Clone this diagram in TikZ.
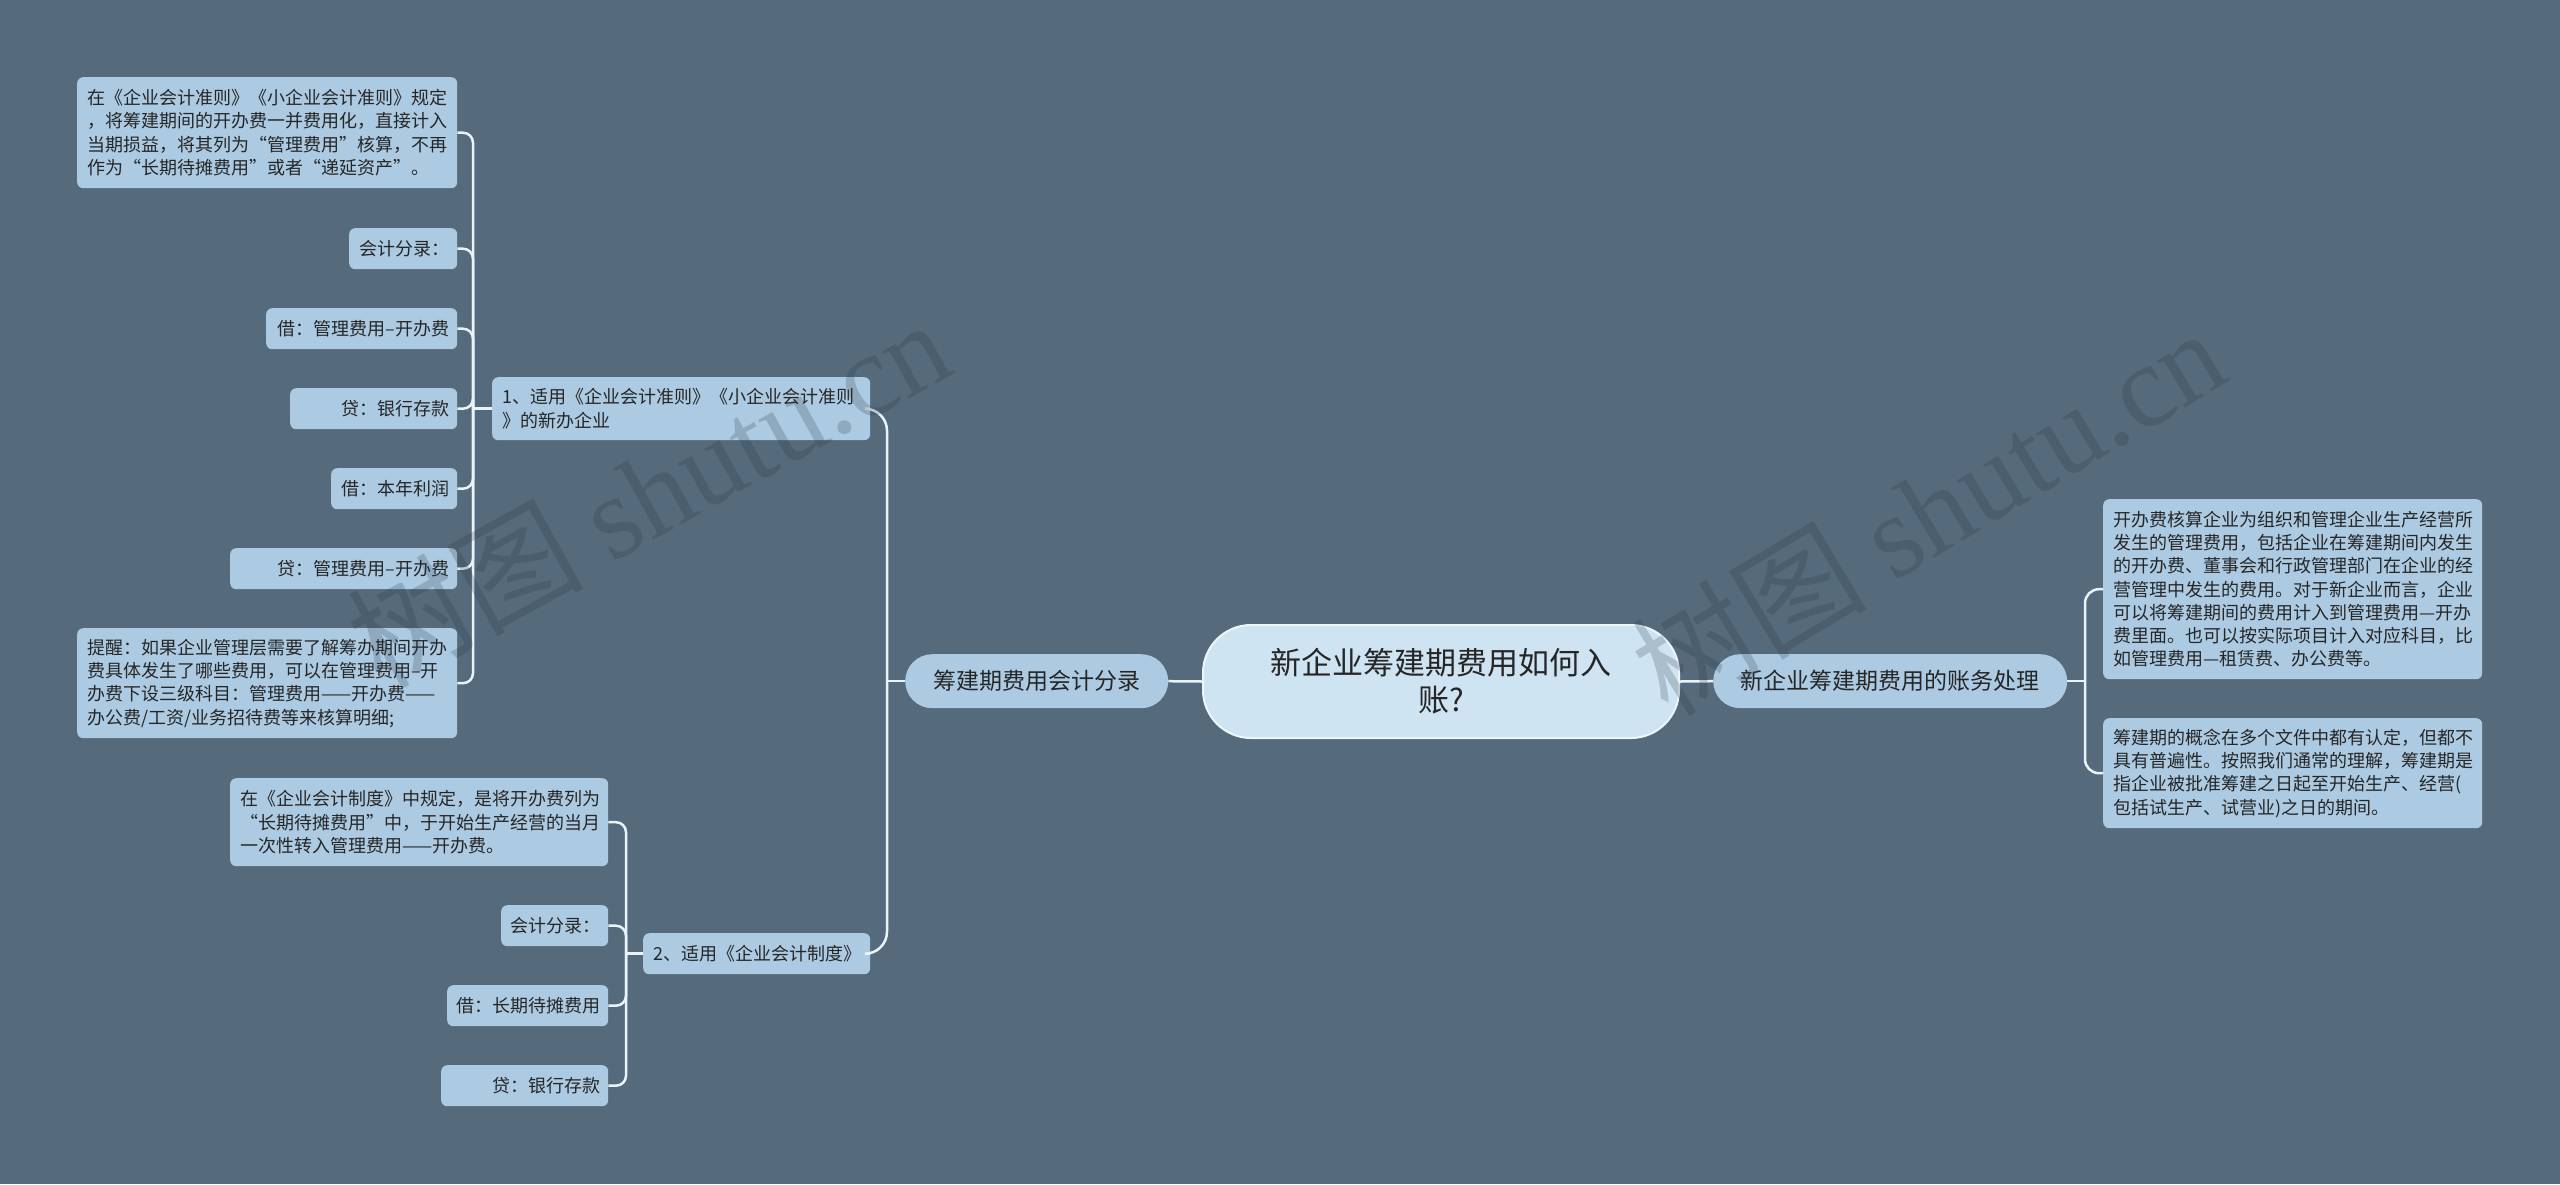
\documentclass[tikz,border=0pt]{standalone}
\usepackage{fontspec}
\setmainfont{Noto Sans CJK SC}
\newfontfamily\wmlatin{Liberation Serif}
\definecolor{bgc}{RGB}{85,106,122}
\definecolor{nodefill}{RGB}{172,203,227}
\definecolor{rootfill}{RGB}{207,228,242}
\definecolor{rootline}{RGB}{236,245,252}
\definecolor{linec}{RGB}{232,243,250}
\definecolor{txt}{RGB}{38,38,38}
\definecolor{wmc}{RGB}{40,55,66}
\tikzset{
  leaf/.style={fill=nodefill, rounded corners=6, inner xsep=10, inner ysep=0, text=txt,
    font=\fontsize{18}{23.3}\selectfont, anchor=north west},
  single/.style={leaf, inner xsep=8, align=right},
  lone/.style={fill=nodefill, rounded corners=27, inner xsep=10, inner ysep=0, text=txt,
    font=\fontsize{23}{28}\selectfont, anchor=north west, align=center},
  rootn/.style={fill=rootfill, draw=rootline, line width=2, rounded corners=48, inner sep=0,
    text=txt, font=\fontsize{31}{37}\selectfont, anchor=north west, align=center},
  conn/.style={draw=linec, line width=2.5},
  wm/.style={text=wmc, opacity=0.22, font=\fontsize{118}{125}\selectfont, inner sep=0}
}
\begin{document}
\begin{tikzpicture}[x=1pt,y=-1pt]
\useasboundingbox (0,0) rectangle (2560,1184);
\fill[bgc] (0,0) rectangle (2560,1184);

% root and level 1
\node[rootn, minimum width=476, minimum height=113] (root) at (1202,624) {新企业筹建期费用如何入\\账?};
\node[lone, minimum width=263, minimum height=54] (L) at (905,654) {筹建期费用会计分录};
\node[lone, minimum width=354, minimum height=54] (R) at (1713,654) {新企业筹建期费用的账务处理};

% level 2 left
\node[leaf, minimum width=378, minimum height=63, text width=358, align=left] (n1) at (492,377)
  {1、适用《企业会计准则》《小企业会计准则\\》的新办企业};
\node[leaf, minimum width=227, minimum height=41, text width=207, align=left] (n2) at (643,933)
  {2、适用《企业会计制度》};

% group 1 leaves
\node[leaf, minimum width=380, minimum height=111, text width=360, align=left] (a1) at (77,77)
  {在《企业会计准则》《小企业会计准则》规定\\，将筹建期间的开办费一并费用化，直接计入\\当期损益，将其列为“管理费用”核算，不再\\作为“长期待摊费用”或者“递延资产”。};
\node[single, minimum width=108, minimum height=41, text width=92] (a2) at (349,228) {\mbox{会计分录：}};
\node[single, minimum width=191, minimum height=41, text width=175] (a3) at (266,308) {\mbox{借：管理费用–开办费}};
\node[single, minimum width=167, minimum height=41, text width=151] (a4) at (290,388) {\mbox{贷：银行存款}};
\node[single, minimum width=126, minimum height=41, text width=110] (a5) at (331,468) {\mbox{借：本年利润}};
\node[single, minimum width=227, minimum height=41, text width=211] (a6) at (230,548) {\mbox{贷：管理费用–开办费}};
\node[leaf, minimum width=380, minimum height=110, text width=360, align=left] (a7) at (77,628)
  {提醒：如果企业管理层需要了解筹办期间开办\\费具体发生了哪些费用，可以在管理费用–开\\办费下设三级科目：管理费用——开办费——\\办公费/工资/业务招待费等来核算明细;};

% group 2 leaves
\node[leaf, minimum width=378, minimum height=88, text width=358, align=left] (b1) at (230,778)
  {在《企业会计制度》中规定，是将开办费列为\\“长期待摊费用”中，于开始生产经营的当月\\一次性转入管理费用——开办费。};
\node[single, minimum width=107, minimum height=41, text width=91] (b2) at (501,905) {\mbox{会计分录：}};
\node[single, minimum width=161, minimum height=41, text width=145] (b3) at (447,985) {\mbox{借：长期待摊费用}};
\node[single, minimum width=167, minimum height=41, text width=151] (b4) at (441,1065) {\mbox{贷：银行存款}};

% right leaves
\node[leaf, minimum width=379, minimum height=180, text width=359, align=left] (r1) at (2103,499)
  {开办费核算企业为组织和管理企业生产经营所\\发生的管理费用，包括企业在筹建期间内发生\\的开办费、董事会和行政管理部门在企业的经\\营管理中发生的费用。对于新企业而言，企业\\可以将筹建期间的费用计入到管理费用—开办\\费里面。也可以按实际项目计入对应科目，比\\如管理费用—租赁费、办公费等。};
\node[leaf, minimum width=379, minimum height=110, text width=359, align=left] (r2) at (2103,718)
  {筹建期的概念在多个文件中都有认定，但都不\\具有普遍性。按照我们通常的理解，筹建期是\\指企业被批准筹建之日起至开始生产、经营(\\包括试生产、试营业)之日的期间。};

% spines
\coordinate (s0) at (887,0);
\coordinate (s1) at (473,0);
\coordinate (s2) at (626,0);
\coordinate (s3) at (2085,0);

% connectors
\draw[conn] (root.west) -- (L.east);
\draw[conn] (root.east) -- (R.west);

\draw[conn] (L.west) -- (s0 |- L.west);
\foreach \c in {n1,n2} \draw[conn, rounded corners=22] (s0 |- L.west) |- (\c.east);

\draw[conn] (n1.west) -- (s1 |- n1.west);
\foreach \c in {a1,a2,a3,a4,a5,a6,a7} \draw[conn, rounded corners=10] (s1 |- n1.west) |- (\c.east);

\draw[conn] (n2.west) -- (s2 |- n2.west);
\foreach \c in {b1,b2,b3,b4} \draw[conn, rounded corners=10] (s2 |- n2.west) |- (\c.east);

\draw[conn] (R.east) -- (s3 |- R.east);
\foreach \c in {r1,r2} \draw[conn, rounded corners=14] (s3 |- R.east) |- (\c.west);

% watermarks
\node[wm, rotate=29] (wm1) at (648,492) {树图 {\wmlatin shutu.cn}};
\node[wm, rotate=31] (wm2) at (1928,510) {树图 {\wmlatin shutu.cn}};
\end{tikzpicture}
\end{document}
